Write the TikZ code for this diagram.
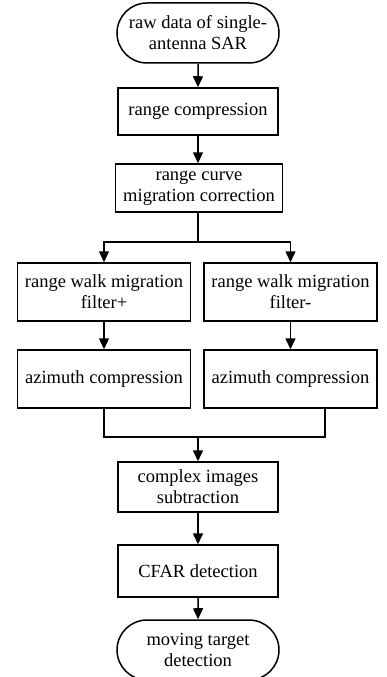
\documentclass[tikz,border=0pt]{standalone}
\usepackage{fontspec}
\setmainfont{Liberation Serif}
\usetikzlibrary{arrows.meta,shapes.misc,calc}
\begin{document}
\begin{tikzpicture}[x=1bp,y=-1bp,
  every node/.style={font=\fontsize{18.5bp}{21bp}\selectfont, align=center, inner sep=0pt},
  procbox/.style={draw, line width=1.5bp, rectangle, minimum width=#1},
  procbox/.default=160bp,
  termbox/.style={draw, line width=1.5bp, rounded rectangle, minimum width=162bp, minimum height=60bp},
  conn/.style={line width=1.5bp},
  arr/.style={conn, -{Triangle[length=11bp,width=10bp]}}]
\useasboundingbox (0,0) rectangle (386,677);
\node[termbox] (raw) at (198,33) {raw data of single-\\antenna SAR};
\node[procbox, minimum height=47bp] (rc) at (198,111.5) {range compression};
\node[procbox=167bp, minimum height=48bp] (rcmc) at (199,188) {range curve\\migration correction};
\node[procbox=173bp, minimum height=58bp] (fl) at (104,292) {range walk migration\\filter+};
\node[procbox=173bp, minimum height=58bp] (fr) at (290.5,292) {range walk migration\\filter-};
\node[procbox=173bp, minimum height=58bp] (al) at (104,379) {azimuth compression};
\node[procbox=173bp, minimum height=58bp] (ar) at (290.5,379) {azimuth compression};
\node[procbox, minimum height=50bp] (cis) at (198,487) {complex images\\subtraction};
\node[procbox, minimum height=52bp] (cfar) at (198,571) {CFAR detection};
\node[termbox] (mtd) at (198,650) {moving target\\detection};
\coordinate (split) at (198,242);
\coordinate (jl) at (104,437);
\coordinate (jm) at (198,437);
\coordinate (jr) at (325,437);
\draw[arr] (raw) -- (rc);
\draw[arr] (rc) -- (rc.south |- rcmc.north);
\draw[conn] (rc.south |- rcmc.south) -- (split);
\draw[arr] (split) -| (fl.north);
\draw[arr] (split) -| (fr.north);
\draw[arr] (fl) -- (al);
\draw[arr] (fr) -- (ar);
\draw[conn] (al.south) -- (jl) -- (jr) -- (jr |- ar.south);
\draw[arr] (jm) -- (cis);
\draw[arr] (cis) -- (cfar);
\draw[arr] (cfar) -- (mtd);
\end{tikzpicture}
\end{document}
